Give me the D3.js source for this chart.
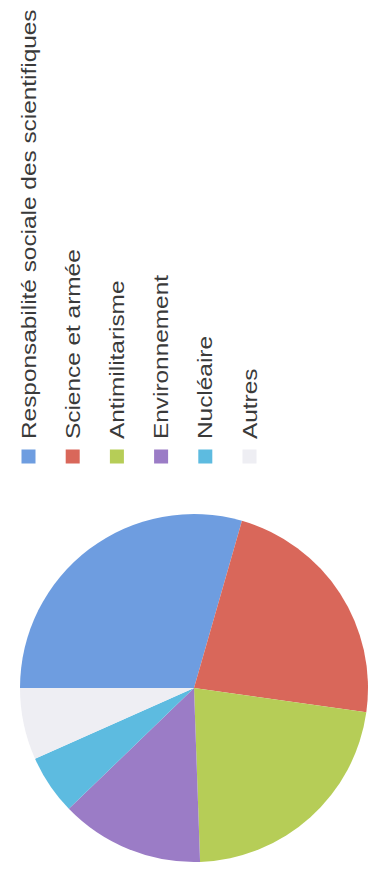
<!DOCTYPE html>
<html>
<head>
<meta charset="utf-8">
<script src="https://cdn.jsdelivr.net/npm/d3@7"></script>
<style>
  html, body { margin: 0; padding: 0; background: #ffffff; }
  svg { display: block; }
  text { font-family: "Liberation Sans", Arial, Helvetica, sans-serif; }
</style>
</head>
<body>
<svg id="chart" width="382" height="876"></svg>
<script>
// Thèmes des publications
const categories = [
  "Responsabilité sociale des scientifiques",
  "Science et armée",
  "Antimilitarisme",
  "Environnement",
  "Nucléaire",
  "Autres"
];
const values = [53, 41, 40, 24, 10, 12];
const colors = ["#6e9de0", "#d9675a", "#b6cd57", "#9b7cc6", "#5dbbe0", "#eeeef3"];

const W = 382, H = 876;
const svg = d3.select("#chart");

// The whole figure is laid out sideways: the pie starts at 9 o'clock
// and the legend labels read from bottom to top.
const cx = 194, cy = 688, radius = 174;

const pie = d3.pie()
  .sort(null)
  .value(d => d.value)
  .startAngle(-Math.PI / 2)
  .endAngle(3 * Math.PI / 2);

const arc = d3.arc().innerRadius(0).outerRadius(radius);

const data = categories.map((c, i) => ({ name: c, value: values[i], color: colors[i] }));

svg.append("g")
  .attr("transform", `translate(${cx},${cy})`)
  .selectAll("path")
  .data(pie(data))
  .join("path")
  .attr("d", arc)
  .attr("fill", d => d.data.color);

// Legend: one column per category, swatch below, text rotated -90°
const legendX = d3.scalePoint()
  .domain(categories)
  .range([35.5, 256.5]);

const swatch = 14;
const swatchTop = 449.5;
const textStart = 439;
const textStretch = 1.19; // wide face: glyphs run longer than the cap height suggests

const legend = svg.append("g")
  .selectAll("g")
  .data(data)
  .join("g");

legend.append("rect")
  .attr("x", d => legendX(d.name) - swatch)
  .attr("y", swatchTop)
  .attr("width", swatch)
  .attr("height", swatch)
  .attr("fill", d => d.color);

legend.append("text")
  .attr("transform", d => `translate(${legendX(d.name)},${textStart}) rotate(-90) scale(${textStretch},1)`)
  .attr("font-size", 20.5)
  .attr("fill", "#3a3a3a")
  .text(d => d.name);
</script>
</body>
</html>
